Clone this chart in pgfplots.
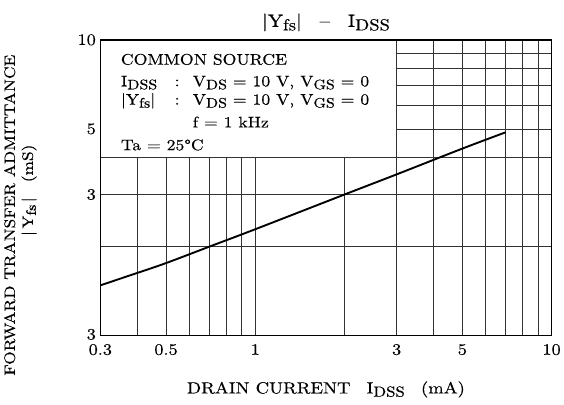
\documentclass[border=0pt]{standalone}
\usepackage{fontspec}
\setmainfont{lmroman10-regular.otf}[FakeStretch=1.15, FakeBold=0.35]
\usepackage{graphicx}
\usepackage{pgfplots}
\pgfplotsset{compat=1.18}
\newcommand{\sub}[1]{\raisebox{-0.45ex}{\scalebox{0.9}{#1}}}
\newcommand{\fs}{\fontsize{15.5}{18}\selectfont}
\begin{document}
\begin{tikzpicture}
\begin{axis}[
  scale only axis, width=453bp, height=297bp,
  xmode=log, ymode=log,
  xmin=0.3, xmax=10, ymin=1, ymax=10,
  xtick={0.3,0.4,0.5,0.6,0.7,0.8,0.9,1,2,3,4,5,6,7,8,9,10},
  xticklabels={0.3,,0.5,,,,,1,,3,,5,,,,,10},
  ytick={1,2,3,4,5,6,7,8,9,10},
  yticklabels={\raisebox{3bp}{3},,3,,5,,,,,10},
  xmajorgrids, ymajorgrids,
  major grid style={draw=black!80, line width=0.7pt},
  tick style={draw=none},
  axis line style={line width=1.5pt},
  tick label style={font=\fontsize{16}{18}\selectfont},
  xticklabel style={yshift=-5bp},
  yticklabel style={xshift=-1bp},
  clip=false,
]
\path ([xshift=-100.7bp,yshift=-69bp]rel axis cs:0,0) rectangle ([xshift=10bp,yshift=40bp]rel axis cs:1,1);
\fill[white] ([xshift=0.8pt,yshift=0.4pt]axis cs:0.3,4) rectangle ([xshift=-0.4pt,yshift=-0.8pt]axis cs:3,10);
\addplot[black, line width=1.9pt, smooth] coordinates {
  (0.3,1.48) (0.4,1.63) (0.5,1.76) (0.7,2.0) (1,2.29) (2,3.0) (3,3.51) (5,4.29) (7,4.87)
};
\node[anchor=base, font=\fontsize{18}{20}\selectfont] at ([yshift=13bp]rel axis cs:0.5,1) {|Y\sub{fs}|\quad--\quad I\sub{DSS}};
\node[anchor=base, font=\fontsize{16.3}{18}\selectfont] at ([yshift=-58bp]rel axis cs:0.5,0) {DRAIN CURRENT\quad I\sub{DSS}\quad (mA)};
\node[anchor=base, rotate=90, font=\fontsize{15.2}{17}\selectfont] at ([xshift=-85.7bp,yshift=-27.5bp]rel axis cs:0,0.5) {FORWARD TRANSFER ADMITTANCE};
\node[anchor=base, rotate=90, font=\fontsize{15.2}{17}\selectfont] at ([xshift=-67.7bp,yshift=-2.5bp]rel axis cs:0,0.5) {|\,Y\sub{fs}\,|\quad (mS)};
\node[anchor=base west, font=\fs] at (rel axis cs:0.038,0.916) {COMMON SOURCE};
\node[anchor=base west, font=\fs] at (rel axis cs:0.038,0.843) {I\sub{DSS}};
\node[anchor=base west, font=\fs] at (rel axis cs:0.157,0.843) {:};
\node[anchor=base west, font=\fs] at (rel axis cs:0.197,0.843) {V\sub{DS} = 10 V, V\sub{GS} = 0};
\node[anchor=base west, font=\fs] at (rel axis cs:0.038,0.781) {|Y\sub{fs}|};
\node[anchor=base west, font=\fs] at (rel axis cs:0.157,0.781) {:};
\node[anchor=base west, font=\fs] at (rel axis cs:0.197,0.781) {V\sub{DS} = 10 V, V\sub{GS} = 0};
\node[anchor=base west, font=\fs] at (rel axis cs:0.197,0.704) {f = 1 kHz};
\node[anchor=base west, font=\fs] at (rel axis cs:0.038,0.627) {Ta = 25°C};
\end{axis}
\end{tikzpicture}
\end{document}
